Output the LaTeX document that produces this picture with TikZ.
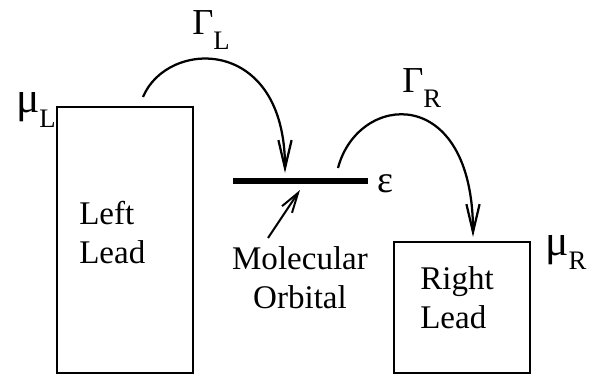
\documentclass[tikz,border=0pt]{standalone}
\usepackage{fontspec}
\setmainfont{Liberation Serif}
\usetikzlibrary{arrows.meta,positioning}
\newcommand{\lowsub}[1]{\raisebox{-10.5pt}{\fontsize{19}{19}\selectfont #1}}

\begin{document}
\begin{tikzpicture}[
    lead/.style={
        rectangle, draw, line width=1.4pt,
        minimum width=3.4cm, inner sep=0pt
    },
    label style/.style={
        inner sep=0pt,
        font=\fontsize{23.5}{27.5}\selectfont
    },
    greek/.style={
        inner sep=0pt,
        font=\fontsize{#1}{#1}\selectfont
    },
    hop/.style={
        line width=1.6pt,
        -{Straight Barb[length=0.7cm,width=0.33cm]}
    }
]
\useasboundingbox (0,0) rectangle (14.725,9.375);

% Leads
\node[lead, minimum height=6.65cm] (leftlead) at (3.125,3.375) {};
\node[lead, minimum height=3.275cm] (rightlead) at (11.55,1.6875) {};

% Texts inside the leads
\node[label style, align=left, anchor=base west] (lefttext) at (1.975,2.8) {Left\\Lead};
\node[label style, align=left, anchor=base west] (righttext) at (10.5,1.175) {Right\\Lead};

% Chemical potentials
\node[greek=31, anchor=base east] (mul) at (1.4,6.55) {μ\lowsub{L}};
\node[greek=31, anchor=base west] (mur) at (13.625,3.0) {μ\lowsub{R}};

% Molecular orbital level
\coordinate (orbl) at (5.825,4.85);
\coordinate (orbr) at (9.2,4.85);
\draw[line width=3.6pt] (orbl) -- (orbr);
\node[greek=27, anchor=base west] (eps) at (9.425,4.575) {ε};

\node[label style, align=center, anchor=base] (moltext) at (7.5,1.675) {Molecular\\Orbital};
\coordinate (moltail) at (6.7,3.425);
\coordinate (moltip) at (7.5,4.625);
\draw[line width=1.4pt, -{Straight Barb[length=0.5cm,width=0.3cm]}] (moltail) -- (moltip);

% Hopping arcs
\coordinate (glstart) at (3.575,6.95);
\coordinate (glend) at (7.125,5.05);
\draw[hop] (glstart) .. controls +(0.6,1.45) and +(0,3.45) .. (glend);
\node[greek=26, anchor=base west] (gammal) at (4.8,8.5) {Γ\lowsub{L}};

\coordinate (grstart) at (8.45,5.175);
\coordinate (grend) at (11.825,3.45);
\draw[hop] (grstart) .. controls +(0.5,1.9) and +(0,3.85) .. (grend);
\node[greek=26, anchor=base west] (gammar) at (10.05,7.05) {Γ\lowsub{R}};

\end{tikzpicture}
\end{document}
